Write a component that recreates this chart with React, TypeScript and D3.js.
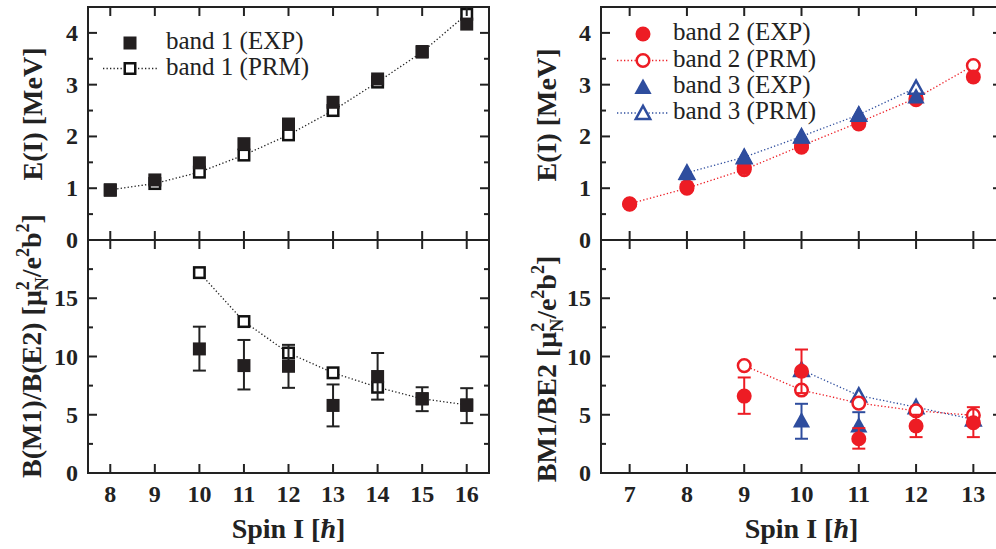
import React from "react";
import * as d3 from "d3";

// ---- data ----
const spin1 = [8, 9, 10, 11, 12, 13, 14, 15, 16];
const e1Exp = [0.96, 1.16, 1.49, 1.86, 2.24, 2.66, 3.11, 3.64, 4.17];
const e1Prm = [0.97, 1.09, 1.31, 1.64, 2.03, 2.5, 3.05, 3.63, 4.36];

const spinB1 = [10, 11, 12, 13, 14, 15, 16];
const b1Prm = [17.2, 13.0, 10.3, 8.6, 7.36, 6.37, 5.85];
const b1Exp = [10.65, 9.22, 9.16, 5.8, 8.28, 6.37, 5.8];
const b1Hi = [12.56, 11.42, 11.0, 7.6, 10.3, 7.36, 7.28];
const b1Lo = [8.79, 7.17, 7.31, 4.0, 6.3, 5.31, 4.28];

const spin2 = [7, 8, 9, 10, 11, 12, 13];
const e2Exp = [0.69, 1.03, 1.4, 1.79, 2.24, 2.71, 3.15];
const e2Prm = [0.7, 1.0, 1.36, 1.82, 2.27, 2.74, 3.37];
const spin3 = [8, 9, 10, 11, 12];
const e3Exp = [1.29, 1.61, 2.0, 2.43, 2.77];
const e3Prm = [1.3, 1.6, 2.0, 2.42, 2.94];

const spinB2 = [9, 10, 11, 12, 13];
const b2Prm = [9.22, 7.12, 6.0, 5.34, 4.95];
const b2Exp = [6.6, 8.73, 2.94, 4.03, 4.31];
const b2Hi = [8.2, 10.6, 3.85, 5.0, 5.65];
const b2Lo = [5.08, 6.86, 2.09, 3.08, 3.08];
const spinB3 = [10, 11, 12, 13];
const b3Prm = [8.85, 6.65, 5.65, 4.6];
const spinB3e = [10, 11];
const b3Exp = [4.5, 4.08];
const b3Hi = [5.94, 5.22];
const b3Lo = [2.94, 2.94];

const eTicks = [0, 1, 2, 3, 4];
const bTicks = [0, 5, 10, 15];

const RED = "#ed1c24";
const BLUE = "#2e4d9e";
const FONT = "'Liberation Serif', 'Times New Roman', serif";

// ---- layout ----
const TOP = 7, MID = 240, BOT = 473;
const yE = d3.scaleLinear().domain([0, 4.5]).range([MID, TOP]);
const yB = d3.scaleLinear().domain([0, 20]).range([BOT, MID]);
const xL = d3.scaleLinear().domain([7.5, 16.5]).range([88, 489]);
const xR = d3.scaleLinear().domain([6.5, 13.5]).range([601, 1002]);

const MAJ = 9, MIN = 5;

function Frame({ x, y, xt, yMaj, yMin, showLabels, showX }: any) {
  const [x0, x1] = x.range();
  const [y1, y0] = y.range();
  const xs = d3.range(Math.ceil(x.domain()[0]), Math.floor(x.domain()[1]) + 1);
  return (
    <g>
      <rect x={x0} y={y0} width={x1 - x0} height={y1 - y0} fill="none" stroke="#222" strokeWidth={2} />
      {xs.map((v) => (
        <g key={"x" + v}>
          <line x1={x(v)} x2={x(v)} y1={y1} y2={y1 - MAJ} stroke="#222" strokeWidth={2} />
          <line x1={x(v)} x2={x(v)} y1={y0} y2={y0 + MAJ} stroke="#222" strokeWidth={2} />
          {showX && (
            <text x={x(v)} y={y1 + 29} textAnchor="middle" fontSize={24} fontWeight="bold" fontFamily={FONT} fill="#222">
              {v}
            </text>
          )}
        </g>
      ))}
      {yMin.map((v: number) => (
        <g key={"m" + v}>
          <line x1={x0} x2={x0 + MIN} y1={y(v)} y2={y(v)} stroke="#222" strokeWidth={2} />
          <line x1={x1} x2={x1 - MIN} y1={y(v)} y2={y(v)} stroke="#222" strokeWidth={2} />
        </g>
      ))}
      {yMaj.map((v: number) => (
        <g key={"y" + v}>
          <line x1={x0} x2={x0 + MAJ} y1={y(v)} y2={y(v)} stroke="#222" strokeWidth={2} />
          <line x1={x1} x2={x1 - MAJ} y1={y(v)} y2={y(v)} stroke="#222" strokeWidth={2} />
          {showLabels && (
            <text x={x0 - 10} y={y(v) + 8} textAnchor="end" fontSize={24} fontWeight="bold" fontFamily={FONT} fill="#222">
              {v}
            </text>
          )}
        </g>
      ))}
    </g>
  );
}

const Square = ({ cx, cy, open, s = 13 }: any) =>
  open ? (
    <rect x={cx - (s - 2.5) / 2} y={cy - (s - 2.5) / 2} width={s - 2.5} height={s - 2.5} fill="#fff" stroke="#111" strokeWidth={2.5} />
  ) : (
    <rect x={cx - s / 2} y={cy - s / 2} width={s} height={s} fill="#231f20" />
  );

const Circle = ({ cx, cy, open }: any) =>
  open ? (
    <circle cx={cx} cy={cy} r={6.3} fill="#fff" stroke={RED} strokeWidth={2.5} />
  ) : (
    <circle cx={cx} cy={cy} r={7.5} fill={RED} />
  );

const Tri = ({ cx, cy, open }: any) => {
  if (open) {
    const w = 7.2, t = 7.2, b = 6.0;
    return (
      <path d={`M${cx},${cy - t}L${cx + w},${cy + b}L${cx - w},${cy + b}Z`} fill="#fff" stroke={BLUE} strokeWidth={2.5} strokeLinejoin="miter" />
    );
  }
  const w = 8.6, t = 8.5, b = 7;
  return <path d={`M${cx},${cy - t}L${cx + w},${cy + b}L${cx - w},${cy + b}Z`} fill={BLUE} />;
};

function DotLine({ xs, ys, x, y, color }: any) {
  const line = d3.line<number>().x((_, i) => x(xs[i])).y((d) => y(d));
  return <path d={line(ys) || ""} fill="none" stroke={color} strokeWidth={1.3} strokeDasharray="1.3,2.2" />;
}

function ErrBars({ xs, lo, hi, x, y, color }: any) {
  return (
    <g stroke={color} strokeWidth={2}>
      {xs.map((v: number, i: number) => (
        <g key={i}>
          <line x1={x(v)} x2={x(v)} y1={y(lo[i])} y2={y(hi[i])} />
          <line x1={x(v) - 6.5} x2={x(v) + 6.5} y1={y(lo[i])} y2={y(lo[i])} />
          <line x1={x(v) - 6.5} x2={x(v) + 6.5} y1={y(hi[i])} y2={y(hi[i])} />
        </g>
      ))}
    </g>
  );
}

function YTitleB({ cx, cy, prefix }: any) {
  return (
    <text
      transform={`translate(${cx},${cy}) rotate(-90)`}
      textAnchor="middle"
      dy={9}
      fontSize={28}
      fontWeight="bold"
      fontFamily={FONT}
      fill="#222"
    >
      {prefix + " [μ"}
      <tspan fontSize={18} dy={-12}>2</tspan>
      <tspan fontSize={18} dx={-9} dy={19}>N</tspan>
      <tspan dy={-7}>/e</tspan>
      <tspan fontSize={18} dy={-12}>2</tspan>
      <tspan dy={12}>b</tspan>
      <tspan fontSize={18} dy={-12}>2</tspan>
      <tspan dy={12}>]</tspan>
    </text>
  );
}

const YTitle = ({ cx, cy, label }: any) => (
  <text transform={`translate(${cx},${cy}) rotate(-90)`} textAnchor="middle" dy={9} fontSize={28} fontWeight="bold" fontFamily={FONT} fill="#222">
    {label}
  </text>
);

const XTitle = ({ cx }: any) => (
  <text x={cx} y={538} textAnchor="middle" fontSize={28} fontWeight="bold" fontFamily={FONT} fill="#222">
    Spin I [<tspan fontStyle="italic">ħ</tspan>]
  </text>
);

const LegText = ({ x, y, children }: any) => (
  <text x={x} y={y + 6} fontSize={25} fontFamily={FONT} fill="#222">
    {children}
  </text>
);

export default function App() {
  return (
    <svg width={996} height={549} style={{ position: "absolute", left: 0, top: 0, background: "#fff" }}>
      {/* LEFT TOP */}
      <DotLine xs={spin1} ys={e1Prm} x={xL} y={yE} color="#222" />
      {spin1.map((s, i) => <Square key={"p" + i} cx={xL(s)} cy={yE(e1Prm[i])} open />)}
      {spin1.map((s, i) => <Square key={"e" + i} cx={xL(s)} cy={yE(e1Exp[i])} />)}
      <Square cx={130} cy={43} />
      <LegText x={166} y={43}>band 1 (EXP)</LegText>
      <line x1={103} x2={158} y1={68.5} y2={68.5} stroke="#222" strokeWidth={1.3} strokeDasharray="1.3,2.2" />
      <Square cx={130} cy={68.5} open />
      <LegText x={166} y={68.5}>band 1 (PRM)</LegText>

      {/* LEFT BOTTOM */}
      <DotLine xs={spinB1} ys={b1Prm} x={xL} y={yB} color="#222" />
      {spinB1.map((s, i) => <Square key={"bp" + i} cx={xL(s)} cy={yB(b1Prm[i])} open />)}
      <ErrBars xs={spinB1} lo={b1Lo} hi={b1Hi} x={xL} y={yB} color="#222" />
      {spinB1.map((s, i) => <Square key={"be" + i} cx={xL(s)} cy={yB(b1Exp[i])} />)}

      {/* RIGHT TOP */}
      <DotLine xs={spin2} ys={e2Prm} x={xR} y={yE} color={RED} />
      <DotLine xs={spin3} ys={e3Prm} x={xR} y={yE} color={BLUE} />
      {spin2.map((s, i) => <Circle key={"c2p" + i} cx={xR(s)} cy={yE(e2Prm[i])} open />)}
      {spin2.map((s, i) => <Circle key={"c2e" + i} cx={xR(s)} cy={yE(e2Exp[i])} />)}
      {spin3.map((s, i) => <Tri key={"t3p" + i} cx={xR(s)} cy={yE(e3Prm[i])} open />)}
      {spin3.map((s, i) => <Tri key={"t3e" + i} cx={xR(s)} cy={yE(e3Exp[i])} />)}

      <Circle cx={643} cy={34} />
      <LegText x={673} y={34}>band 2 (EXP)</LegText>
      <line x1={617} x2={668} y1={60.5} y2={60.5} stroke={RED} strokeWidth={1.3} strokeDasharray="1.3,2.2" />
      <Circle cx={643} cy={60.5} open />
      <LegText x={673} y={60.5}>band 2 (PRM)</LegText>
      <Tri cx={643} cy={87} />
      <LegText x={673} y={87}>band 3 (EXP)</LegText>
      <line x1={617} x2={668} y1={113} y2={113} stroke={BLUE} strokeWidth={1.3} strokeDasharray="1.3,2.2" />
      <Tri cx={643} cy={113} open />
      <LegText x={673} y={113}>band 3 (PRM)</LegText>

      {/* RIGHT BOTTOM */}
      <DotLine xs={spinB3} ys={b3Prm} x={xR} y={yB} color={BLUE} />
      <DotLine xs={spinB2} ys={b2Prm} x={xR} y={yB} color={RED} />
      {spinB3.map((s, i) => <Tri key={"bt3p" + i} cx={xR(s)} cy={yB(b3Prm[i])} open />)}
      <ErrBars xs={spinB3e} lo={b3Lo} hi={b3Hi} x={xR} y={yB} color={BLUE} />
      {spinB3e.map((s, i) => <Tri key={"bt3e" + i} cx={xR(s)} cy={yB(b3Exp[i])} />)}
      {spinB2.map((s, i) => <Circle key={"bc2p" + i} cx={xR(s)} cy={yB(b2Prm[i])} open />)}
      <ErrBars xs={spinB2} lo={b2Lo} hi={b2Hi} x={xR} y={yB} color={RED} />
      {spinB2.map((s, i) => <Circle key={"bc2e" + i} cx={xR(s)} cy={yB(b2Exp[i])} />)}

      {/* frames */}
      <Frame x={xL} y={yE} yMaj={eTicks} yMin={[0.5, 1.5, 2.5, 3.5]} showLabels showX={false} />
      <Frame x={xL} y={yB} yMaj={bTicks} yMin={[2.5, 7.5, 12.5, 17.5]} showLabels showX />
      <Frame x={xR} y={yE} yMaj={eTicks} yMin={[0.5, 1.5, 2.5, 3.5]} showLabels showX={false} />
      <Frame x={xR} y={yB} yMaj={bTicks} yMin={[2.5, 7.5, 12.5, 17.5]} showLabels showX />

      <YTitle cx={33} cy={114} label="E(I) [MeV]" />
      <YTitleB cx={32} cy={346} prefix="B(M1)/B(E2)" />
      <YTitle cx={547} cy={115} label="E(I) [MeV]" />
      <YTitleB cx={547} cy={369} prefix="BM1/BE2" />
      <XTitle cx={xL(12)} />
      <XTitle cx={xR(10)} />
    </svg>
  );
}
